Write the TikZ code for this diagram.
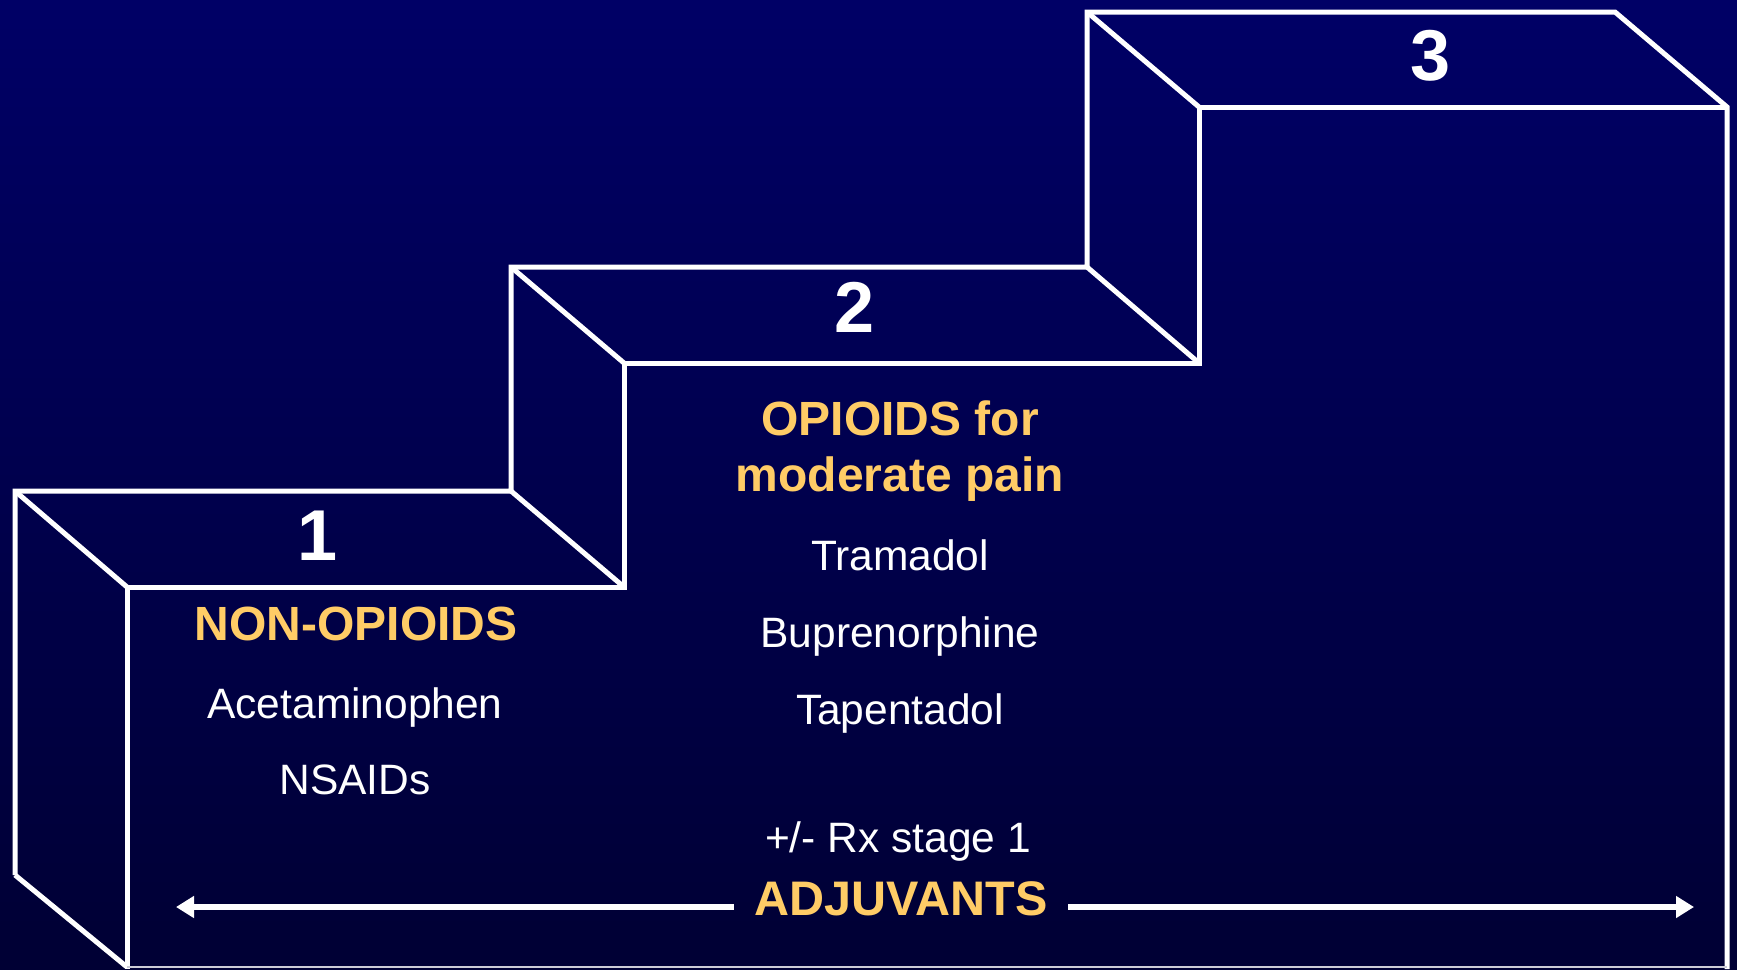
\documentclass[tikz,border=0pt]{standalone}
\usepackage{fontspec}
\setmainfont{Liberation Sans}
\usetikzlibrary{arrows.meta}
\definecolor{bgtop}{RGB}{0,0,102}
\definecolor{bgbot}{RGB}{0,0,52}
\definecolor{gold}{RGB}{255,204,102}
\begin{document}
\begin{tikzpicture}[x=1pt,y=-1pt,
  edge/.style={draw=white,line width=5pt,line join=miter},
  num/.style={text=white,anchor=base,inner sep=0pt,font=\bfseries\fontsize{72}{80}\selectfont},
  head/.style={text=gold,anchor=base,inner sep=0pt,font=\bfseries\fontsize{48}{55}\selectfont},
  drug/.style={text=white,anchor=base,inner sep=0pt,font=\fontsize{42.5}{50}\selectfont},
  arr/.style={draw=white,line width=6pt,-{Triangle[length=18pt,width=21pt]}}]
\useasboundingbox (0,0) rectangle (1737,969);
\shade[top color=bgtop,bottom color=bgbot] (0,0) rectangle (1737,969);
% corners
\coordinate (b1) at (15,491);
\coordinate (f1) at (127,587);
\coordinate (b1b) at (15,875);
\coordinate (f1b) at (127,967);
\coordinate (b2) at (511,491);
\coordinate (f2) at (624,587);
\coordinate (b2t) at (511,267);
\coordinate (f2t) at (624,363);
\coordinate (b3) at (1087,267);
\coordinate (f3) at (1199,363);
\coordinate (b3t) at (1087,12);
\coordinate (f3t) at (1199,107);
\coordinate (b4) at (1615,12);
\coordinate (f4) at (1727,107);
\coordinate (f4b) at (1727,969);
\coordinate (f1z) at (127,969);
% back outline
\draw[edge] (b1b) -- (b1) -- (b2) -- (b2t) -- (b3) -- (b3t) -- (b4) -- (f4) -- (f4b);
% front outline
\draw[edge] (f1z) -- (f1) -- (f2) -- (f2t) -- (f3) -- (f3t) -- (f4);
% depth edges
\draw[edge] (b1) -- (f1);
\draw[edge] (b1b) -- (f1b);
\draw[edge] (b2) -- (f2);
\draw[edge] (b2t) -- (f2t);
\draw[edge] (b3) -- (f3);
\draw[edge] (b3t) -- (f3t);
\draw[draw=white!80!bgbot,line width=2pt] (f1b) -- (1727,967);
% numbers
\node[num] (n1) at (318,560) {1};
\node[num] (n2) at (855,332) {2};
\node[num] (n3) at (1431,80) {3};
% step 1
\node[head] (nonop) at (356,640) {NON-OPIOIDS};
\node[drug] (acet) at (355,718) {Acetaminophen};
\node[drug] (nsaid) at (355,794) {NSAIDs};
% step 2
\node[head] (op1) at (900,435) {OPIOIDS for};
\node[head] (op2) at (900,491) {moderate pain};
\node[drug] (tram) at (900,570) {Tramadol};
\node[drug] (bup) at (900,647) {Buprenorphine};
\node[drug] (tap) at (900,724) {Tapentadol};
\node[drug] (rx) at (898,852) {+/- Rx stage 1};
% adjuvants
\node[head,inner xsep=20.5pt,font=\bfseries\fontsize{48.5}{55}\selectfont] (adj) at (901,915) {ADJUVANTS};
\coordinate (al) at (176,907);
\coordinate (ar) at (1694,907);
\draw[arr] (adj.west |- al) -- (al);
\draw[arr] (adj.east |- ar) -- (ar);
\end{tikzpicture}
\end{document}
